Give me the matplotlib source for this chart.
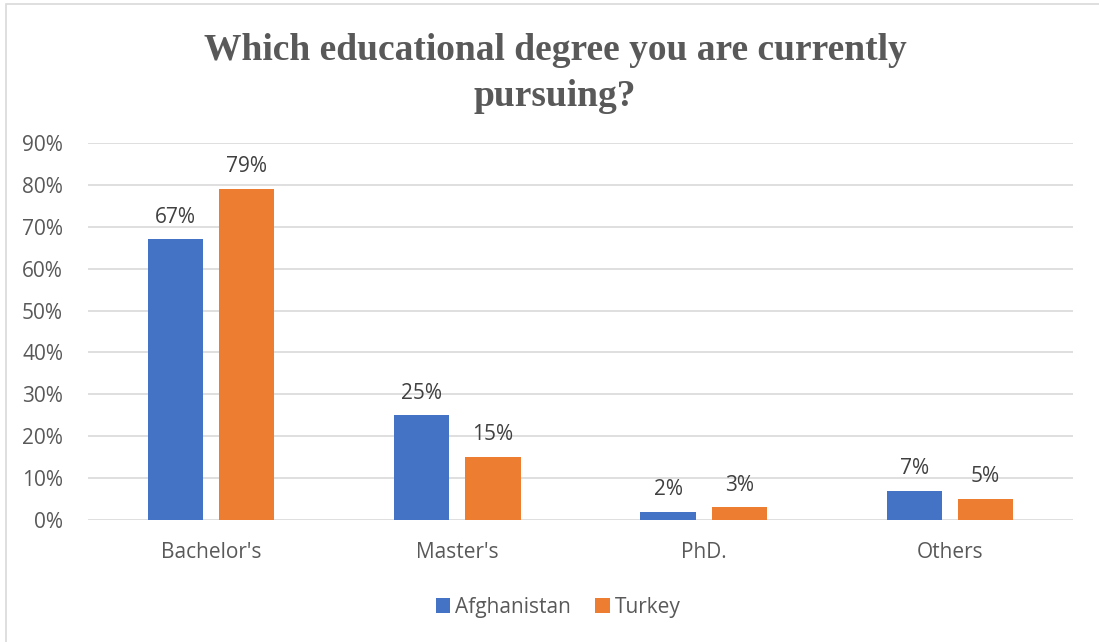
import numpy as np
import matplotlib.pyplot as plt
from matplotlib.patches import Rectangle

categories = ["Bachelor's", "Master's", "PhD.", "Others"]
afghanistan = [67, 25, 2, 7]
turkey = [79, 15, 3, 5]
series_names = ["Afghanistan", "Turkey"]
colors = ["#4472C4", "#ED7D31"]
yticks = [0, 10, 20, 30, 40, 50, 60, 70, 80, 90]

plt.rcParams['font.family'] = ['Open Sans', 'DejaVu Sans']

fig = plt.figure(figsize=(10.99, 6.42), dpi=100)
fig.patches.append(Rectangle((6 / 1099, -0.05), 1.0, 1.05 - 4 / 642, transform=fig.transFigure,
                             fill=False, edgecolor='#d9d9d9', linewidth=1.2))
ax = fig.add_axes([0.0801, 0.19, 0.8962, 0.5873])

x = np.arange(len(categories))
w = 0.224
off = 0.1445
for i, (vals, name) in enumerate(zip([afghanistan, turkey], series_names)):
    pos = x + (-off if i == 0 else off)
    bars = ax.bar(pos, vals, width=w, color=colors[i], label=name, zorder=3)
    for b, v in zip(bars, vals):
        ax.text(b.get_x() + b.get_width() / 2, v + 2.8, f"{v}%", ha='center', va='bottom',
                fontsize=15, color='#404040')

ax.set_xlim(-0.5, len(categories) - 0.5)
ax.set_ylim(0, 90)
ax.set_yticks(yticks)
ax.set_yticklabels([f"{t}%" for t in yticks])
ax.set_xticks(x)
ax.set_xticklabels(categories)
ax.grid(axis='y', color='#d9d9d9', linewidth=1.2, zorder=0)
for s in ax.spines.values():
    s.set_visible(False)
ax.tick_params(axis='both', length=0, labelsize=15, labelcolor='#595959')
ax.tick_params(axis='x', pad=16)
ax.tick_params(axis='y', pad=18)

fig.text(0.505, 0.949, "Which educational degree you are currently\npursuing?", ha='center', va='top',
         fontsize=27, fontweight='bold', color='#595959', family='Liberation Serif',
         linespacing=1.4)

handles, labels = ax.get_legend_handles_labels()
fig.legend(handles, labels, loc='center', bbox_to_anchor=(0.508, 1 - 607 / 642), ncol=2,
           frameon=False, fontsize=15, labelcolor='#595959', handlelength=0.7,
           handleheight=0.7, handletextpad=0.25, columnspacing=1.15)

fig.savefig("out.png", dpi=100)
